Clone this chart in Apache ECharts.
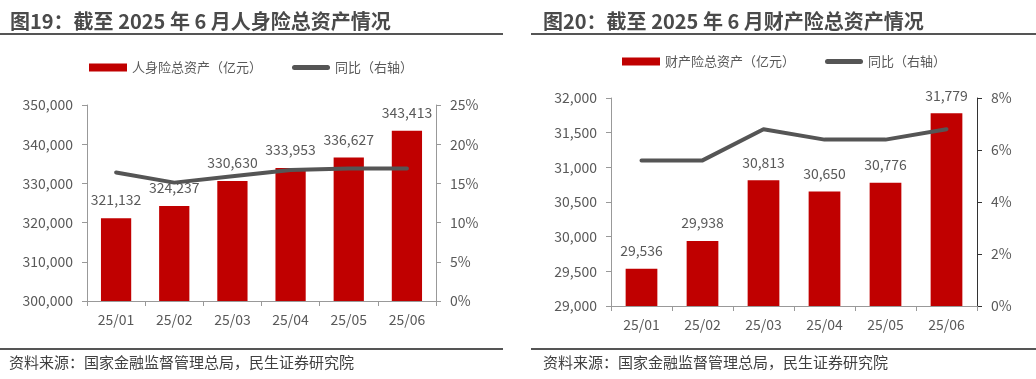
<!DOCTYPE html>
<html>
<head>
<meta charset="utf-8">
<script src="https://cdn.jsdelivr.net/npm/echarts@6/dist/echarts.min.js"></script>
<style>
html,body{margin:0;padding:0;background:#fff;}
#c{width:1036px;height:379px;}
</style>
</head>
<body>
<div id="c"></div>
<script>
const months = ['25/01','25/02','25/03','25/04','25/05','25/06'];
const lifeAssets = [321132, 324237, 330630, 333953, 336627, 343413];
const lifeYoY = [16.4, 15.1, 15.9, 16.7, 16.9, 16.9];
const propAssets = [29536, 29938, 30813, 30650, 30776, 31779];
const propYoY = [5.6, 5.6, 6.8, 6.4, 6.4, 6.8];
const lifeTicksLeft = [300000, 350000, 10000];
const lifeTicksRight = [0, 25, 5];
const propTicksLeft = [29000, 32000, 500];
const propTicksRight = [0, 8, 2];

const FONT = 'Noto Sans CJK SC';
const TXT = '#595959';
const RED = '#C00000';
const LINE = '#555555';
const LINE_ICON = 'path://M2.5,0 L35.5,0 A2.5,2.5 0 0 1 35.5,5 L2.5,5 A2.5,2.5 0 0 1 2.5,0 Z';
const fmt = v => Number(v).toLocaleString('en-US');

function catAxis(gi){
  return {
    type:'category', gridIndex:gi, data:months,
    axisLine:{lineStyle:{color:'#999',width:1}},
    axisTick:{show:true,length:5,lineStyle:{color:'#999'}},
    axisLabel:{color:TXT,fontSize:14,fontFamily:FONT,margin:12}
  };
}
function valAxis(gi, t, pos, pct, lineColor){
  return {
    type:'value', gridIndex:gi, position:pos, min:t[0], max:t[1], interval:t[2],
    splitLine:{show:false},
    axisLine:{show:true,lineStyle:{color:lineColor,width:1}},
    axisTick:{show:true,length:5,lineStyle:{color:lineColor}},
    axisLabel:{color:TXT,fontSize:14,fontFamily:FONT,margin:14,
      formatter: pct ? (v=>v+'%') : fmt}
  };
}

const chart = echarts.init(document.getElementById('c'));
chart.setOption({
  animation:false,
  backgroundColor:'#fff',
  textStyle:{fontFamily:FONT},
  title:[
    {text:'图19：截至 2025 年 6 月人身险总资产情况', left:10, top:11, padding:0,
     textStyle:{fontSize:20,fontWeight:'bold',color:'#4a4a4a',fontFamily:FONT}},
    {text:'图20：截至 2025 年 6 月财产险总资产情况', left:543, top:11, padding:0,
     textStyle:{fontSize:20,fontWeight:'bold',color:'#4a4a4a',fontFamily:FONT}}
  ],
  legend:[
    {left:89, top:61, padding:0, itemWidth:38, itemHeight:8, itemGap:30,
     data:[{name:'人身险总资产（亿元）',icon:'rect'},{name:'同比（右轴）',icon:LINE_ICON}],
     textStyle:{color:TXT,fontSize:13,fontFamily:FONT}, selectedMode:false},
    {left:622, top:55, padding:0, itemWidth:38, itemHeight:8, itemGap:30,
     data:[{name:'财产险总资产（亿元）',icon:'rect'},{name:'同比 ',icon:LINE_ICON}],
     textStyle:{color:TXT,fontSize:13,fontFamily:FONT}, selectedMode:false,
     formatter: n => n === '同比 ' ? '同比（右轴）' : n}
  ],
  grid:[
    {left:87, right:600, top:105, bottom:78},
    {left:611, right:59, top:98, bottom:73}
  ],
  xAxis:[catAxis(0), catAxis(1)],
  yAxis:[
    valAxis(0, lifeTicksLeft, 'left', false, '#999'),
    valAxis(0, lifeTicksRight, 'right', true, '#999'),
    valAxis(1, propTicksLeft, 'left', false, '#999'),
    valAxis(1, propTicksRight, 'right', true, '#333')
  ],
  series:[
    {name:'人身险总资产（亿元）', type:'bar', xAxisIndex:0, yAxisIndex:0, data:lifeAssets,
     barWidth:'52%', itemStyle:{color:RED}, z:2,
     label:{show:true,position:'top',distance:11,color:TXT,fontSize:14,fontFamily:FONT,formatter:p=>fmt(p.value)}},
    {name:'同比（右轴）', type:'line', xAxisIndex:0, yAxisIndex:1, data:lifeYoY,
     symbol:'none', z:5, lineStyle:{color:LINE,width:4,cap:'round',join:'round'}, itemStyle:{color:LINE}},
    {name:'财产险总资产（亿元）', type:'bar', xAxisIndex:1, yAxisIndex:2, data:propAssets,
     barWidth:'52%', itemStyle:{color:RED}, z:2,
     label:{show:true,position:'top',distance:11,color:TXT,fontSize:14,fontFamily:FONT,formatter:p=>fmt(p.value)}},
    {name:'同比 ', type:'line', xAxisIndex:1, yAxisIndex:3, data:propYoY,
     symbol:'none', z:5, lineStyle:{color:LINE,width:4,cap:'round',join:'round'}, itemStyle:{color:LINE}}
  ],
  graphic:[
    {type:'line', shape:{x1:0,y1:34,x2:503,y2:34}, style:{stroke:'#555',lineWidth:2}},
    {type:'line', shape:{x1:531,y1:34,x2:1036,y2:34}, style:{stroke:'#555',lineWidth:2}},
    {type:'line', shape:{x1:0,y1:349,x2:503,y2:349}, style:{stroke:'#555',lineWidth:2}},
    {type:'line', shape:{x1:531,y1:349,x2:1036,y2:349}, style:{stroke:'#555',lineWidth:2}},
    {type:'text', left:9, top:355, style:{text:'资料来源：国家金融监督管理总局，民生证券研究院', fill:'#404040', font:'15px "Noto Sans CJK SC"'}},
    {type:'text', left:543, top:355, style:{text:'资料来源：国家金融监督管理总局，民生证券研究院', fill:'#404040', font:'15px "Noto Sans CJK SC"'}}
  ]
});
</script>
</body>
</html>
